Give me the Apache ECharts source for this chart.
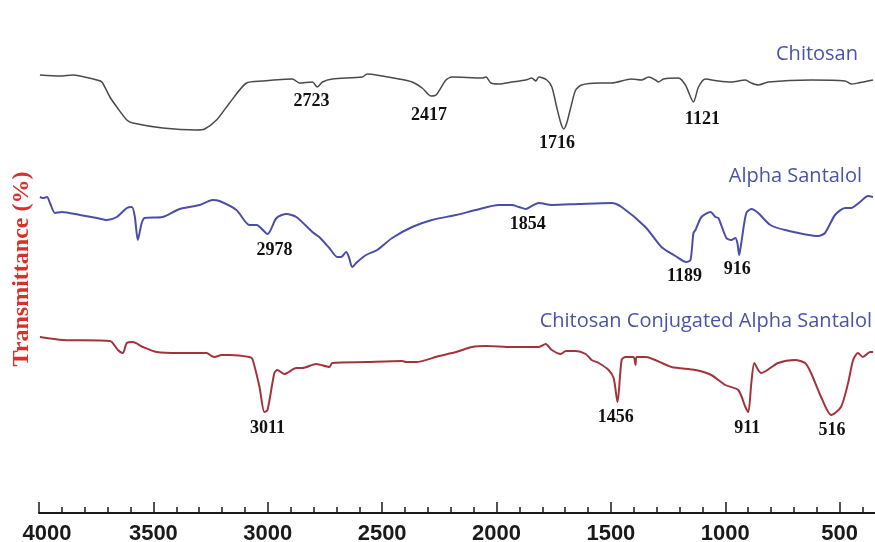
<!DOCTYPE html>
<html>
<head>
<meta charset="utf-8">
<script src="https://cdn.jsdelivr.net/npm/echarts@6/dist/echarts.min.js"></script>
<style>
html,body{margin:0;padding:0;background:#fff;}
#chart{width:875px;height:542px;}
</style>
</head>
<body>
<div id="chart"></div>
<script>
// ---- Data (wavenumber in cm-1, transmittance in arbitrary offset units) ----
const seriesNames = ['Chitosan', 'Alpha Santalol', 'Chitosan Conjugated Alpha Santalol'];
const xTickLabels = [4000, 3500, 3000, 2500, 2000, 1500, 1000, 500];

const chitosanWn = [3996,3908,3852,3747,3725,3690,3660,3616,3590,3459,3311,3276,3224,3167,3093,3023,2892,2862,2805,2783,2761,2718,2587,2565,2526,2426,2369,2325,2286,2264,2221,2195,2064,2046,2024,1990,1933,1872,1846,1828,1815,1780,1758,1737,1719,1706,1693,1676,1654,1628,1553,1497,1410,1366,1335,1305,1292,1270,1205,1174,1139,1117,1087,1030,974,912,886,856,812,625,476,450,420,354];
const chitosanT  = [87.6,87.4,87.6,86.6,86.2,83.2,81.2,78.6,78.0,77.0,76.6,76.8,78.6,82.0,86.0,86.4,86.8,86.0,86.2,85.2,86.2,86.8,87.2,87.8,87.6,86.8,86.2,85.0,83.4,83.6,86.6,87.2,87.0,87.2,86.0,85.8,86.2,86.6,87.0,86.4,87.2,86.6,85.2,81.2,78.0,76.8,78.0,81.0,84.6,85.6,86.0,86.0,86.8,86.6,87.2,86.6,86.2,86.8,87.0,85.6,82.2,85.2,86.8,86.4,86.2,86.6,86.0,85.6,86.2,86.6,86.4,85.8,86.0,86.6];

const alphaWn = [3996,3983,3965,3952,3930,3900,3821,3747,3703,3660,3616,3594,3581,3568,3551,3538,3459,3385,3298,3241,3211,3137,3080,3049,3001,2962,2918,2875,2805,2775,2731,2696,2679,2657,2644,2631,2609,2570,2522,2456,2369,2282,2177,2090,1990,1933,1902,1872,1846,1815,1758,1641,1497,1453,1349,1279,1218,1170,1152,1139,1130,1104,1065,1043,1030,995,974,956,947,939,930,908,886,856,803,738,594,564,520,476,450,411,376,354];
const alphaT  = [63.2,63.0,63.2,62.0,60.0,60.2,59.6,59.0,58.6,59.2,61.0,61.2,59.2,54.6,58.0,59.0,59.2,60.8,61.6,62.6,62.4,60.6,57.6,57.6,55.8,59.0,59.8,59.2,56.2,55.2,53.0,51.2,51.2,52.2,51.0,49.2,50.2,51.6,52.6,55.0,57.2,58.6,59.6,60.6,61.6,61.6,61.2,60.8,61.4,62.0,61.6,61.8,62.0,61.2,57.2,53.2,51.4,50.2,50.6,56.0,56.6,59.2,60.2,59.2,59.0,55.0,54.6,55.0,54.0,51.6,54.0,60.0,60.8,60.0,57.6,56.6,55.4,56.0,59.6,61.0,61.0,62.2,63.4,63.2];

const conjWn = [3996,3895,3690,3655,3634,3616,3590,3546,3485,3385,3267,3246,3232,3202,3167,3080,3067,3036,3015,3001,2971,2958,2927,2875,2849,2788,2731,2718,2570,2413,2395,2352,2251,2177,2107,2046,1933,1815,1785,1758,1719,1697,1654,1610,1584,1553,1510,1488,1471,1453,1436,1401,1392,1388,1349,1235,1130,1061,1000,943,912,899,886,873,856,843,769,694,651,625,581,537,494,463,441,420,398,367,354];
const conjT  = [35.2,34.6,34.4,32.6,32.0,34.0,34.2,33.2,32.2,32.0,32.0,31.4,31.2,31.6,31.6,31.2,30.8,25.2,20.2,20.6,28.0,28.6,27.8,29.0,29.0,29.8,29.2,30.0,30.2,30.4,30.2,30.2,31.4,32.2,33.2,33.4,33.2,33.2,33.8,32.6,31.8,32.4,32.4,31.8,30.6,30.0,28.6,27.0,22.2,30.6,31.2,31.2,29.6,31.2,31.2,29.2,28.6,27.6,25.6,24.6,21.2,20.2,26.0,30.0,28.6,28.0,30.0,30.6,30.0,28.0,23.2,19.6,21.2,26.0,30.6,32.0,31.2,32.2,32.2];

// peak annotations: text, position (wavenumber, value), series index
const peakText = ['2723','2417','1716','1121','2978','1854','1189','916','3011','1456','911','516'];
const peakWn   = [2809,2295,1735,1100,2971,1863,1178,947,3001,1479,904,533];
const peakT    = [82.4,79.6,74.0,78.8,52.6,57.8,47.4,48.8,17.0,19.2,17.0,16.6];
const peakSeries = [0,0,0,0,1,1,1,1,2,2,2,2];

// ---- Build ----
const wnLists = [chitosanWn, alphaWn, conjWn];
const tLists = [chitosanT, alphaT, conjT];
const lineColors = ['#4a4a4a', '#4b4ea6', '#a3333b'];
const lineWidths = [1.5, 2, 2];

const series = seriesNames.map((name, si) => {
  const data = wnLists[si].map((w, i) => [w, tLists[si][i]]);
  const mp = [];
  peakText.forEach((t, k) => {
    if (peakSeries[k] === si) mp.push({ coord: [peakWn[k], peakT[k]], value: t });
  });
  return {
    name: name,
    type: 'line',
    data: data,
    showSymbol: false,
    smooth: 0.25,
    clip: true,
    lineStyle: { color: lineColors[si], width: lineWidths[si] },
    itemStyle: { color: lineColors[si] },
    emphasis: { disabled: true },
    markPoint: {
      symbol: 'circle',
      symbolSize: 0,
      silent: true,
      label: {
        show: true,
        position: 'inside',
        formatter: p => p.value,
        fontFamily: '"Liberation Serif", serif',
        fontWeight: 'bold',
        fontSize: 18,
        color: '#111'
      },
      data: mp
    }
  };
});

const chart = echarts.init(document.getElementById('chart'), null, { renderer: 'canvas' });
chart.setOption({
  animation: false,
  backgroundColor: '#ffffff',
  grid: { left: 39, width: 915, top: 13, bottom: 29, containLabel: false, outerBoundsMode: 'none' },
  xAxis: {
    type: 'value',
    inverse: true,
    min: 0,
    max: 4000,
    interval: 500,
    axisLine: { show: true, lineStyle: { color: '#1a1a1a', width: 2 } },
    axisTick: { show: true, inside: true, length: 11, lineStyle: { color: '#1a1a1a', width: 1.5 } },
    minorTick: { show: true, splitNumber: 5, length: 6, lineStyle: { color: '#1a1a1a', width: 1.5 } },
    splitLine: { show: false },
    axisLabel: {
      margin: 10,
      fontFamily: '"Liberation Sans", Arial, sans-serif',
      fontWeight: 'bold',
      fontSize: 22,
      color: '#1a1a1a',
      formatter: v => (xTickLabels.indexOf(v) === -1 ? '' : (v === 4000 ? '{first|' + v + '}' : String(v))),
      rich: {
        first: {
          fontFamily: '"Liberation Sans", Arial, sans-serif',
          fontWeight: 'bold',
          fontSize: 22,
          color: '#1a1a1a',
          padding: [0, 0, 0, 16]
        }
      }
    }
  },
  yAxis: {
    type: 'value',
    min: 0,
    max: 100,
    interval: 20,
    name: 'Transmittance (%)',
    nameLocation: 'middle',
    nameGap: 5,
    nameRotate: 90,
    nameTextStyle: {
      fontFamily: '"Liberation Serif", serif',
      fontWeight: 'bold',
      fontSize: 24,
      color: '#d8312b',
      padding: [0, 12, 0, 0]
    },
    axisLine: { show: true, lineStyle: { color: '#1a1a1a', width: 2 } },
    axisTick: { show: false },
    axisLabel: { show: false },
    splitLine: { show: false }
  },
  graphic: [
    { type: 'text', right: 17, top: 44, style: { text: seriesNames[0], font: '20px "Open Sans", sans-serif', fill: '#4a53a6' } },
    { type: 'text', right: 13, top: 166, style: { text: seriesNames[1], font: '20px "Open Sans", sans-serif', fill: '#4a53a6' } },
    { type: 'text', right: 3, top: 311, style: { text: seriesNames[2], font: '20px "Open Sans", sans-serif', fill: '#4a53a6' } }
  ],
  series: series
});
</script>
</body>
</html>
